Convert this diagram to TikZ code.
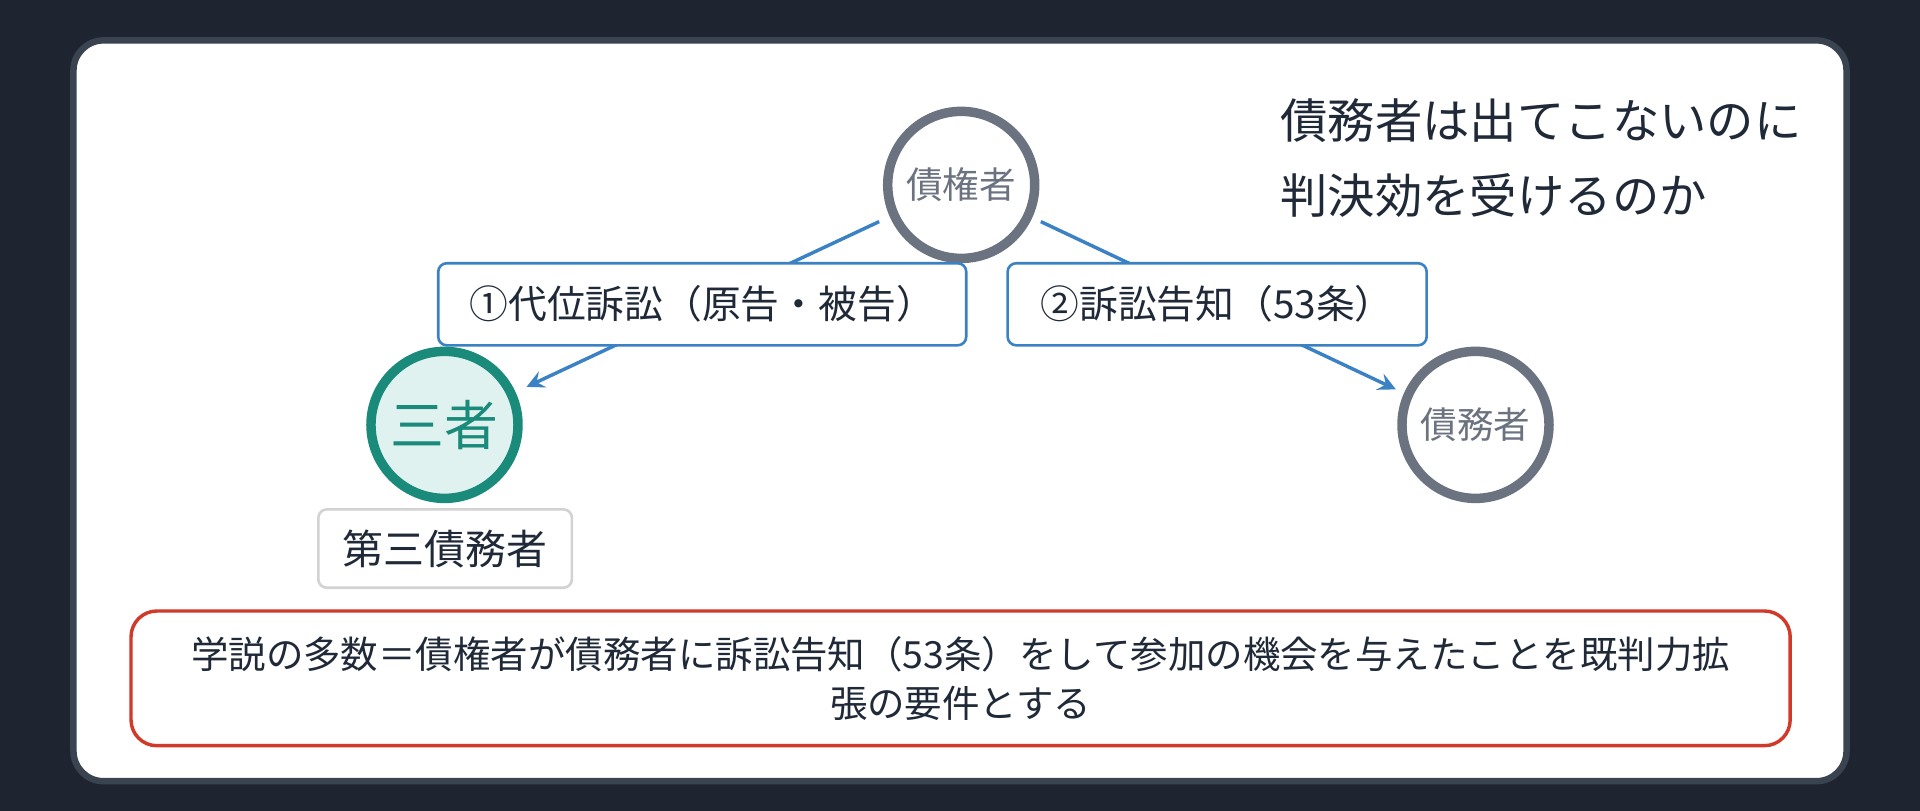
\documentclass[tikz,border=0pt]{standalone}
\usepackage{fontspec}
\setmainfont{Noto Sans CJK JP}
\usetikzlibrary{positioning}
\definecolor{bgdark}{HTML}{1E2530}
\definecolor{panelrim}{HTML}{3A4350}
\definecolor{rimgray}{HTML}{6B7280}
\definecolor{tealc}{HTML}{1A8A7A}
\definecolor{tealf}{HTML}{E0F2EF}
\definecolor{bluec}{HTML}{3B82C4}
\definecolor{redc}{HTML}{D03A2A}
\definecolor{inkc}{HTML}{1F2937}
\tikzset{
  party/.style={circle, draw=rimgray, line width=2.2pt, fill=white, minimum size=1.2cm,
    text=rimgray, font=\fontsize{8.5}{10}\selectfont, inner sep=0pt},
  focus/.style={party, draw=tealc, fill=tealf, text=tealc, font=\fontsize{12.5}{14}\selectfont},
  tag/.style={draw=bluec, line width=0.6pt, fill=white, rounded corners=2pt, minimum width=#1,
    minimum height=0.67cm, text=inkc, font=\fontsize{9}{11}\selectfont},
  link/.style={bluec, line width=0.8pt, -stealth}
}
\begin{document}
\begin{tikzpicture}[x=0.01cm, y=-0.01cm]
  \fill[bgdark] (0,0) rectangle (1568,662);
  \fill[white, draw=panelrim, line width=1.5pt, rounded corners=7pt] (60,33) rectangle (1508,638);
  \node[party] (creditor) at (785,151) {債権者};
  \node[focus] (third) at (363,347) {三者};
  \node[party] (debtor) at (1205,347) {債務者};
  \coordinate (cl) at (718,181);
  \coordinate (cr) at (850,181);
  \coordinate (tl) at (430,316);
  \coordinate (tr) at (1140,318);
  \draw[link] (cl) -- (tl);
  \draw[link] (cr) -- (tr);
  \node[tag=4.31cm] (subrog) at (573.5,248.5) {①代位訴訟（原告・被告）};
  \node[tag=3.42cm] (notice) at (994,248.5) {②訴訟告知（53条）};
  \node[draw=gray!35, line width=0.6pt, rounded corners=2pt, minimum width=2.07cm, minimum height=0.64cm,
    text=inkc, font=\fontsize{9.5}{11}\selectfont] (thirdname) at (363.5,448) {第三債務者};
  \node[anchor=north west, align=left, text=inkc, font=\fontsize{11}{17.5}\selectfont, inner sep=0pt]
    (question) at (1045,80) {債務者は出てこないのに\\判決効を受けるのか};
  \draw[redc, line width=0.8pt, fill=white, rounded corners=6pt] (107,499) rectangle (1462,609);
  \node[align=center, text=inkc, font=\fontsize{8.7}{11.5}\selectfont] (theory) at (784.5,554)
    {学説の多数＝債権者が債務者に訴訟告知（53条）をして参加の機会を与えたことを既判力拡\\張の要件とする};
\end{tikzpicture}
\end{document}
